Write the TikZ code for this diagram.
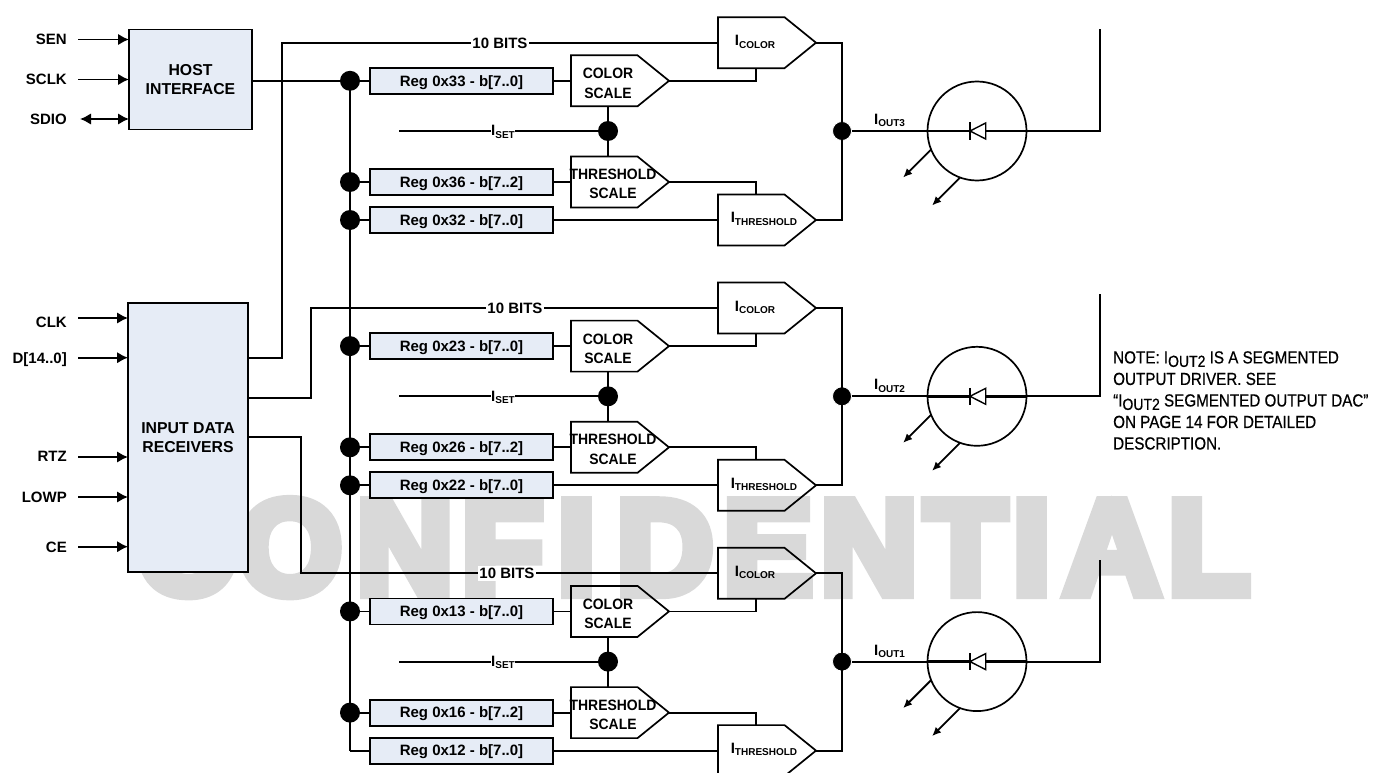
\documentclass[tikz,border=0pt]{standalone}
\usepackage{fontspec}
\usepackage{graphicx}
\usetikzlibrary{arrows.meta, shapes.symbols}
\setmainfont{Liberation Sans}
\newfontfamily\markfont[FakeBold=8.5]{Liberation Sans Bold}
\newfontfamily\notefont[FakeBold=0.6]{Liberation Sans}
\definecolor{regfill}{HTML}{E6ECF6}
\definecolor{markgray}{HTML}{D9D9D9}
\newcommand{\isub}[1]{I\raisebox{-2.5pt}{\fontsize{10}{10}\selectfont #1}}
\newcommand{\notesub}[1]{I\raisebox{-3pt}{\fontsize{14}{14}\selectfont #1}}
\newcommand{\tightbox}[1]{\scalebox{0.93}[1]{#1}}
\tikzset{
  wire/.style={line width=1.8pt},
  pinarrow/.style={wire, -{Latex[length=11pt,width=11.5pt]}},
  label15/.style={font=\bfseries\fontsize{15}{19.4}\selectfont, align=center, inner sep=0pt},
  label16/.style={font=\bfseries\fontsize{15.8}{18.7}\selectfont, align=center, inner sep=0pt},
  capline/.style={text height=10.7pt, text depth=0pt},
  blockbox/.style={draw, line width=1.8pt, fill=regfill, label16, outer sep=0pt},
  regbox/.style={blockbox, label15, capline, minimum width=183pt, minimum height=26pt},
  pentagon/.style={signal, signal to=east, draw, line width=1.7pt, minimum width=98pt,
    minimum height=51pt, signal pointer angle=78, inner sep=0pt, outer sep=0pt, anchor=west},
  joint/.style={circle, fill=black, minimum size=20pt, inner sep=0pt, outer sep=0pt},
  outjoint/.style={circle, fill=black, draw=white, line width=0.8pt, minimum size=19pt, inner sep=0pt},
  pinlabel/.style={label15, capline, anchor=east},
  bitslabel/.style={label15, capline, fill=white, inner xsep=1pt, inner ysep=2pt},
  sublabel/.style={label15, fill=white, inner xsep=0.5pt}
}
\begin{document}
\begin{tikzpicture}[x=1pt, y=-1pt]
  \clip (0,0) rectangle (1375,773);
  % watermark
  \foreach \ltr/\xc [count=\n] in {C/185, O/290, N/405, F/502.5, I/576.5, D/665, E/768, N/869, T/965.5, I/1031.5, A/1112, L/1209}{
    \node[text=markgray, inner sep=0pt, anchor=base] (mark\n) at (\xc,593.4)
      {\markfont\fontsize{133}{133}\selectfont \ltr};
  }
  % left blocks
  \node[blockbox, minimum width=123pt, minimum height=100pt] (host) at (190.5,79.5) {HOST\\INTERFACE};
  \node[blockbox, minimum width=120pt, minimum height=269pt] (input) at (188,437.5) {INPUT DATA\\RECEIVERS};
  % pins
  \foreach \pname/\ptext/\ya/\yb/\blk in {sen/SEN/39.5/38.7/host, sclk/SCLK/79.5/79/host,
      clk/CLK/318/322/input, data/D[14..0]/357.7/357.7/input, rtz/RTZ/457/456/input,
      lowp/LOWP/497/497/input, ce/CE/546.7/546.7/input}{
    \node[pinlabel] (\pname) at (67,\yb) {\ptext};
    \coordinate (\pname in) at (78,\ya);
    \draw[pinarrow] (\pname in) -- (\blk.west |- \pname in);
  }
  \node[pinlabel] (sdio) at (67,119) {SDIO};
  \coordinate (sdio in) at (80,119);
  \draw[wire, {Latex[length=11pt,width=11.5pt]}-{Latex[length=11pt,width=11.5pt]}] (sdio in) -- (host.west |- sdio in);
  % three output channels
  \foreach \ch/\yoff/\yout/\xbend/\xbits/\jstyle in {3/0/357.7/282/500/joint, 2/265.3/397.7/311/515/joint, 1/530.6/437/301/507/coordinate}{
    \coordinate (out\ch) at (248,\yout);
    \begin{scope}[shift={(0,\yoff)}]
      % registers
      \node[regbox] (regc\ch) at (461.5,80.8) {Reg 0x\ch3 - b[7..0]};
      \node[regbox] (regt\ch) at (461.5,182) {Reg 0x\ch6 - b[7..2]};
      \node[regbox] (regb\ch) at (461.5,220) {Reg 0x\ch2 - b[7..0]};
      \node[joint] (dotc\ch) at (350,80.8) {};
      \node[joint] (dott\ch) at (350,182) {};
      \node[\jstyle] (dotb\ch) at (350,220) {};
      \draw[wire] (dotc\ch) -- (regc\ch);
      \draw[wire] (dott\ch) -- (regt\ch);
      \draw[wire] (dotb\ch) -- (regb\ch);
      % scale and current blocks
      \node[pentagon] (colsc\ch) at (571,80.8) {};
      \node[pentagon] (thrsc\ch) at (571,182) {};
      \node[pentagon] (icol\ch) at (718,42.7) {};
      \node[pentagon] (ithr\ch) at (718,220) {};
      \node[label15] (colsctext\ch) at (608,83.5) {\tightbox{COLOR}\\\tightbox{SCALE}};
      \node[label15] (thrsctext\ch) at (613,184) {\tightbox{THRESHOLD}\\\tightbox{SCALE}};
      \node[label15] (icoltext\ch) at (755,42) {\isub{COLOR}};
      \node[label15] (ithrtext\ch) at (764,219) {\isub{THRESHOLD}};
      \draw[wire] (regc\ch) -- (colsc\ch.west);
      \draw[wire] (regt\ch) -- (thrsc\ch.west);
      \draw[wire] (regb\ch) -- (ithr\ch.west);
      \coordinate (tapc\ch) at (755.7,68.3);
      \coordinate (tapt\ch) at (755.7,194.7);
      \draw[wire] (colsc\ch.east) -| (tapc\ch);
      \draw[wire] (thrsc\ch.east) -| (tapt\ch);
      % set current
      \node[joint] (dotset\ch) at (608,131) {};
      \coordinate (setin\ch) at (399,131);
      \draw[wire] (setin\ch) -- (dotset\ch);
      \draw[wire] (colsc\ch.south -| dotset\ch) -- (thrsc\ch.north -| dotset\ch);
      \node[sublabel] (settext\ch) at (503,132) {\isub{SET}};
      % ten bit bus
      \coordinate (bend\ch) at (\xbend,42.7);
      \draw[wire] (out\ch) -| (bend\ch) -- (icol\ch.west);
      \node[bitslabel] (bits\ch) at (\xbits,42.7) {10 BITS};
      % output with diode
      \node[outjoint] (dotout\ch) at (842,131) {};
      \draw[wire] (icol\ch.east) -| (dotout\ch.center) |- (ithr\ch.east);
      \node[circle, draw, line width=1.7pt, minimum size=99pt, inner sep=0pt, outer sep=0pt] (led\ch) at (977,131) {};
      \coordinate (ledtop\ch) at (1100,29);
      \coordinate (cath\ch) at (970,131);
      \coordinate (anod\ch) at (985.7,131);
      \draw[wire] (dotout\ch) -- (led\ch.west);
      \draw[line width=2.4pt] (led\ch.west) -- (cath\ch);
      \draw[line width=2.4pt] (anod\ch) -- (led\ch.east);
      \draw[wire] (led\ch.east) -| (ledtop\ch);
      \draw[line width=1.4pt] (anod\ch) -- ++(0,-8) -- (cath\ch) -- ++(15.7,8) -- cycle;
      \draw[line width=1.4pt] (cath\ch) ++(0,-8.5) -- ++(0,17);
      \node[label15, anchor=base west] (iouttext\ch) at (874,124.5) {\isub{OUT\ch}};
      \draw[wire, -{Latex[length=9pt,width=8pt]}] (led\ch.202) -- ++(-28,28);
      \draw[wire, -{Latex[length=9pt,width=8pt]}] (led\ch.250) -- ++(-28,28);
    \end{scope}
  }
  % shared lines
  \draw[wire] (host.east |- dotc3) -- (dotc3);
  \draw[wire] (dotc3.center) -- (dotb1.center);
  % note
  \node[anchor=north west, inner sep=0pt, align=left, yscale=1.15, transform shape, font=\notefont\fontsize{15.2}{18.7}\selectfont] (note) at (1113,351)
    {NOTE: \notesub{OUT2} IS A SEGMENTED\\OUTPUT DRIVER. SEE\\“\notesub{OUT2} SEGMENTED OUTPUT DAC”\\ON PAGE 14 FOR DETAILED\\DESCRIPTION.};
\end{tikzpicture}
\end{document}
